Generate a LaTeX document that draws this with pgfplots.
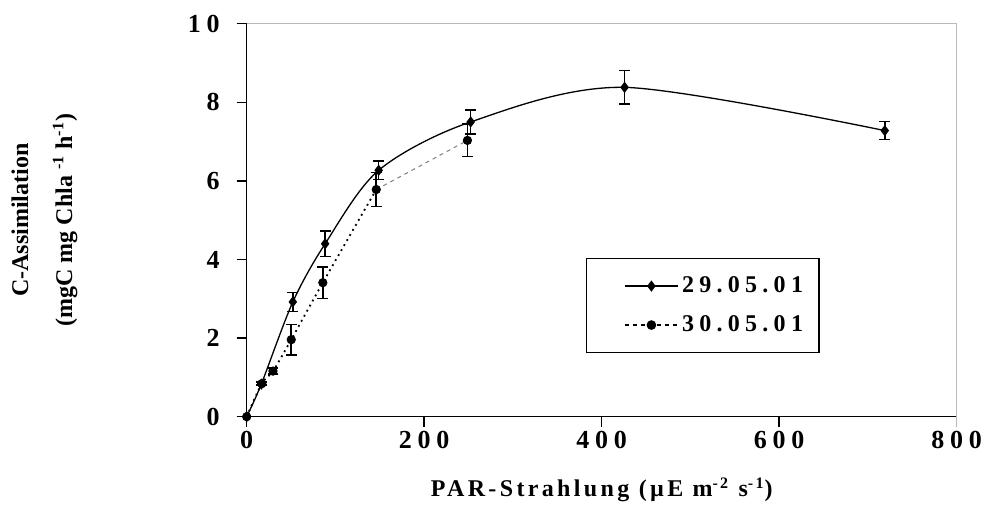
\documentclass[border=0pt]{standalone}
\usepackage{fontspec}
\setmainfont{Liberation Serif}
\newfontfamily\spc[LetterSpace=22]{Liberation Serif}
\newfontfamily\spcl[LetterSpace=14]{Liberation Serif}
\usepackage{pgfplots}
\usepackage{pgfplotstable}
\pgfplotsset{compat=1.18}

% 29.05.01
\pgfplotstableread{
x     y     e
0     0     0
16.5  0.83  0.04
52    2.92  0.24
88.4  4.40  0.32
148.7 6.27  0.23
252.4 7.50  0.31
425.8 8.38  0.43
719   7.28  0.23
}\dataA

% 30.05.01
\pgfplotstableread{
x     y     e
0     0     0
17    0.84  0.04
29.6  1.16  0.08
50.2  1.96  0.39
85.8  3.41  0.40
146   5.78  0.43
248.7 7.03  0.41
}\dataB

\begin{document}
\begin{tikzpicture}
\path[use as bounding box] (-123.35pt,-44.65pt) rectangle (367.65pt,208.35pt);
\begin{axis}[
  at={(0,0)}, anchor=south west,
  scale only axis, width=355pt, height=196.5pt,
  xmin=0, xmax=800, ymin=0, ymax=10,
  xtick={0,200,...,800}, ytick={0,2,...,10},
  axis x line*=bottom, axis y line*=left,
  axis line style={-, line width=0.8pt},
  tick align=outside, major tick length=5pt,
  tick style={black, line width=0.7pt},
  /pgf/number format/assume math mode=true,
  ticklabel style={font=\fontsize{13}{15}\selectfont\spc\bfseries},
  xticklabel style={yshift=1.5pt},
  yticklabel style={xshift=-5pt},
  xlabel={PAR-Strahlung (µE m\textsuperscript{-2} s\textsuperscript{-1})},
  xlabel style={font=\fontsize{12}{14}\selectfont\spcl\bfseries, at={(axis description cs:0.5,-0.186)}, anchor=center},
  ylabel={C-Assimilation\\[8pt](mgC mg Chla \textsuperscript{-1} h\textsuperscript{-1})},
  ylabel style={align=center, font=\fontsize{12}{14}\selectfont\bfseries, at={(axis description cs:-0.285,0.5)}, anchor=center},
  legend style={at={(axis description cs:0.478,0.404)}, anchor=north west,
    draw=black, line width=0.7pt, font=\fontsize{12}{14}\selectfont\spc\bfseries,
    inner xsep=6pt, inner ysep=7pt, row sep=6pt},
  legend cell align=left,
  legend image code/.code={\path (0pt,0pt); \draw[mark repeat=2,mark phase=2,#1] plot coordinates {(13pt,0pt) (26pt,0pt) (39pt,0pt)};},
  clip=false,
]
\draw[gray!55, line width=0.8pt] (rel axis cs:0,1) -- (rel axis cs:1,1) -- (rel axis cs:1,0) -- ++(0,-5pt);
\addplot[black, line width=0.65pt, smooth, mark=diamond*, mark size=2.3pt,
  mark options={solid},
  error bars/.cd, y dir=both, y explicit,
  error bar style={line width=0.8pt, black},
  error mark options={rotate=90, mark size=2.7pt, line width=0.8pt}]
  table[x=x, y=y, y error=e] {\dataA};
\addlegendentry{29.05.01}
% 30.05.01: dotted part, then lighter dashed last segment
\addplot[forget plot, black, line width=0.9pt, dotted, smooth, restrict x to domain=0:150]
  table[x=x, y=y] {\dataB};
\addplot[forget plot, gray, line width=0.5pt, dash pattern=on 2pt off 2pt, restrict x to domain=140:260]
  table[x=x, y=y] {\dataB};
\addplot[forget plot, black, only marks, mark=*, mark size=2.1pt,
  error bars/.cd, y dir=both, y explicit,
  error bar style={line width=0.8pt, black, solid},
  error mark options={rotate=90, mark size=2.7pt, line width=0.8pt, solid}]
  table[x=x, y=y, y error=e] {\dataB};
\addlegendimage{black, line width=0.6pt, dash pattern=on 2pt off 2pt, mark=*, mark size=2.1pt, mark options={solid}}
\addlegendentry{30.05.01}
\end{axis}
\end{tikzpicture}
\end{document}
